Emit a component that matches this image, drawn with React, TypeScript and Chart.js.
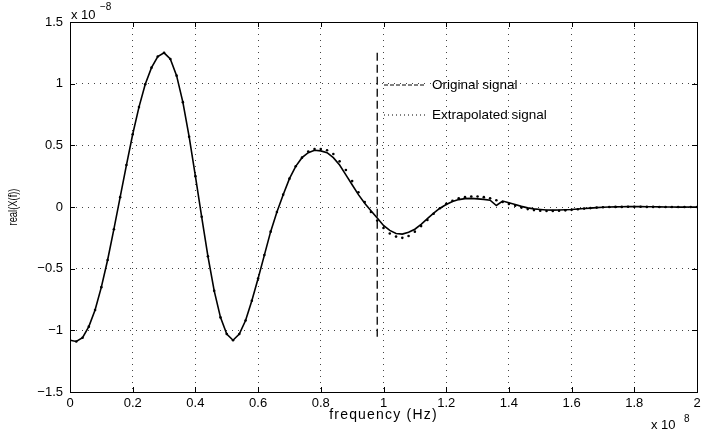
import React, { useEffect, useRef } from "react";
import { Chart, registerables } from "chart.js";

Chart.register(...registerables);

// frequency in units of 1e8 Hz
const FREQ = [
  0.0, 0.02, 0.04, 0.06, 0.08, 0.1, 0.12, 0.14, 0.16, 0.18,
  0.2, 0.22, 0.24, 0.26, 0.28, 0.3, 0.32, 0.34, 0.36, 0.38,
  0.4, 0.42, 0.44, 0.46, 0.48, 0.5, 0.52, 0.54, 0.56, 0.58,
  0.6, 0.62, 0.64, 0.66, 0.68, 0.7, 0.72, 0.74, 0.76, 0.78,
  0.8, 0.82, 0.84, 0.86, 0.88, 0.9, 0.92, 0.94, 0.96, 0.98,
  1.0, 1.02, 1.04, 1.06, 1.08, 1.1, 1.12, 1.14, 1.16, 1.18,
  1.2, 1.22, 1.24, 1.26, 1.28, 1.3, 1.32, 1.34, 1.36, 1.38,
  1.4, 1.42, 1.44, 1.46, 1.48, 1.5, 1.52, 1.54, 1.56, 1.58,
  1.6, 1.62, 1.64, 1.66, 1.68, 1.7, 1.72, 1.74, 1.76, 1.78,
  1.8, 1.82, 1.84, 1.86, 1.88, 1.9, 1.92, 1.94, 1.96, 1.98,
  2.0,
];

// real(X(f)) in units of 1e-8
const ORIGINAL = [
  -1.08, -1.09, -1.06, -0.97, -0.835, -0.65, -0.43, -0.18, 0.08, 0.34,
  0.59, 0.81, 0.995, 1.13, 1.22, 1.25, 1.2, 1.065, 0.85, 0.57,
  0.25, -0.08, -0.4, -0.68, -0.895, -1.03, -1.08, -1.03, -0.92, -0.76,
  -0.58, -0.39, -0.2, -0.04, 0.1, 0.23, 0.33, 0.4, 0.44, 0.46,
  0.455, 0.44, 0.4, 0.34, 0.26, 0.18, 0.1, 0.03, -0.03, -0.09,
  -0.15, -0.19, -0.215, -0.22, -0.205, -0.18, -0.14, -0.095, -0.05, -0.01,
  0.02, 0.045, 0.06, 0.068, 0.07, 0.066, 0.062, 0.055, 0.012, 0.048,
  0.035, 0.02, 0.005, -0.007, -0.015, -0.02, -0.024, -0.025, -0.024, -0.022,
  -0.02, -0.016, -0.012, -0.009, -0.005, -0.002, 0.0, 0.001, 0.002, 0.003,
  0.003, 0.003, 0.002, 0.002, 0.001, 0.0, 0.0, -0.001, -0.001, 0.0,
  0.0,
];

const EXTRAPOLATED = [
  -1.08, -1.09, -1.06, -0.97, -0.835, -0.65, -0.43, -0.18, 0.08, 0.34,
  0.59, 0.81, 0.995, 1.13, 1.22, 1.25, 1.2, 1.065, 0.85, 0.57,
  0.25, -0.08, -0.4, -0.68, -0.895, -1.03, -1.08, -1.03, -0.92, -0.76,
  -0.58, -0.39, -0.2, -0.04, 0.1, 0.23, 0.33, 0.4, 0.45, 0.47,
  0.47, 0.46, 0.43, 0.37, 0.3, 0.21, 0.12, 0.04, -0.04, -0.11,
  -0.17, -0.215, -0.24, -0.25, -0.235, -0.2, -0.155, -0.105, -0.055, -0.01,
  0.025, 0.05, 0.07, 0.08, 0.085, 0.085, 0.08, 0.07, 0.055, 0.04,
  0.025, 0.01, -0.005, -0.017, -0.025, -0.03, -0.032, -0.032, -0.03, -0.027,
  -0.023, -0.018, -0.013, -0.009, -0.005, -0.002, 0.0, 0.001, 0.001, 0.002,
  0.002, 0.002, 0.001, 0.001, 0.0, 0.0, 0.0, 0.0, 0.0, 0.0,
  0.0,
];

const MARKER_FREQ = [0.98, 0.98];
const MARKER_VALUE = [1.25, -1.08];

const X_TICKS = [0, 0.2, 0.4, 0.6, 0.8, 1, 1.2, 1.4, 1.6, 1.8, 2];
const X_TICK_LABELS = ["0", "0.2", "0.4", "0.6", "0.8", "1", "1.2", "1.4", "1.6", "1.8", "2"];
const Y_TICKS = [-1.5, -1, -0.5, 0, 0.5, 1, 1.5];
const Y_TICK_LABELS = ["\u22121.5", "\u22121", "\u22120.5", "0", "0.5", "1", "1.5"];

const X_LABEL = "frequency (Hz)";
const Y_LABEL = "real(X(f))";
const X_EXPONENT = "8";
const Y_EXPONENT = "\u22128";
const LEGEND_LABELS = ["Original signal", "Extrapolated signal"];

const FONT = "'Liberation Sans', Arial, Helvetica, sans-serif";

function labelFor(ticks: number[], labels: string[], v: number): string {
  const i = ticks.findIndex((t) => Math.abs(t - v) < 1e-9);
  return i >= 0 ? labels[i] : "";
}

const decorations = {
  id: "matlabDecor",
  afterDraw(chart: any) {
    const { ctx, chartArea, scales } = chart;
    const { left, right, top, bottom } = chartArea;
    ctx.save();
    // box
    ctx.strokeStyle = "#000";
    ctx.lineWidth = 1;
    ctx.setLineDash([]);
    ctx.strokeRect(Math.round(left) + 0.5, Math.round(top) + 0.5, Math.round(right - left), Math.round(bottom - top));
    // inward ticks
    ctx.beginPath();
    for (const v of X_TICKS) {
      const px = Math.round(scales.x.getPixelForValue(v)) + 0.5;
      ctx.moveTo(px, bottom);
      ctx.lineTo(px, bottom - 5);
      ctx.moveTo(px, top);
      ctx.lineTo(px, top + 5);
    }
    for (const v of Y_TICKS) {
      const py = Math.round(scales.y.getPixelForValue(v)) + 0.5;
      ctx.moveTo(left, py);
      ctx.lineTo(left + 5, py);
      ctx.moveTo(right, py);
      ctx.lineTo(right - 5, py);
    }
    ctx.stroke();

    ctx.fillStyle = "#000";
    // exponents
    ctx.textBaseline = "middle";
    ctx.textAlign = "left";
    ctx.font = `13px ${FONT}`;
    ctx.fillText("x 10", left + 1, top - 7);
    ctx.font = `10px ${FONT}`;
    ctx.fillText(Y_EXPONENT, left + 30, top - 15);
    ctx.font = `13px ${FONT}`;
    ctx.fillText("x 10", right - 46, bottom + 33);
    ctx.font = `10px ${FONT}`;
    ctx.fillText(X_EXPONENT, right - 13, bottom + 27);

    // axis titles
    ctx.font = `14px ${FONT}`;
    ctx.textAlign = "center";
    (ctx as any).letterSpacing = "1.2px";
    ctx.fillText(X_LABEL, (left + right) / 2, bottom + 23);
    (ctx as any).letterSpacing = "0px";
    ctx.save();
    ctx.translate(14, (top + bottom) / 2);
    ctx.rotate(-Math.PI / 2);
    ctx.scale(0.75, 1);
    ctx.font = `12.5px ${FONT}`;
    ctx.fillText(Y_LABEL, 0, 0);
    ctx.restore();

    // legend
    const lx0 = left + 314;
    const lx1 = left + 356;
    const ly0 = top + 63;
    const ly1 = top + 93;
    ctx.strokeStyle = "#000";
    ctx.lineWidth = 1;
    ctx.setLineDash([4, 2]);
    ctx.beginPath();
    ctx.moveTo(lx0, ly0);
    ctx.lineTo(lx1, ly0);
    ctx.stroke();
    ctx.setLineDash([1, 3]);
    ctx.beginPath();
    ctx.moveTo(lx0, ly1);
    ctx.lineTo(lx1, ly1);
    ctx.stroke();
    ctx.setLineDash([]);
    ctx.textAlign = "left";
    ctx.font = `13.5px ${FONT}`;
    ctx.fillText(LEGEND_LABELS[0], lx1 + 6, ly0);
    ctx.fillText(LEGEND_LABELS[1], lx1 + 6, ly1);
    ctx.restore();
  },
};

export default function App() {
  const canvasRef = useRef<HTMLCanvasElement | null>(null);

  useEffect(() => {
    const canvas = canvasRef.current;
    if (!canvas) return;
    const chart = new Chart(canvas, {
      type: "line",
      data: {
        datasets: [
          {
            label: LEGEND_LABELS[0],
            data: FREQ.map((f, i) => ({ x: f, y: ORIGINAL[i] })),
            borderColor: "#000",
            borderWidth: 1.6,
            pointRadius: 0,
            tension: 0,
            fill: false,
          },
          {
            label: LEGEND_LABELS[1],
            data: FREQ.map((f, i) => ({ x: f, y: EXTRAPOLATED[i] })),
            showLine: false,
            borderColor: "#000",
            backgroundColor: "#000",
            pointRadius: 1.3,
            pointBorderWidth: 0,
            pointStyle: "circle",
          },
          {
            label: "marker",
            data: MARKER_FREQ.map((f, i) => ({ x: f, y: MARKER_VALUE[i] })),
            borderColor: "#000",
            borderWidth: 1.3,
            borderDash: [8, 4],
            pointRadius: 0,
            fill: false,
          },
        ],
      },
      options: {
        animation: false,
        responsive: true,
        maintainAspectRatio: false,
        layout: { padding: { top: 22, right: 16, left: 0, bottom: 0 } },
        plugins: {
          legend: { display: false },
          tooltip: { enabled: false },
          title: { display: false },
        },
        scales: {
          x: {
            type: "linear",
            min: 0,
            max: 2,
            afterBuildTicks: (s: any) => {
              s.ticks = X_TICKS.map((v) => ({ value: v }));
            },
            afterFit: (s: any) => {
              s.height = 40;
            },
            ticks: {
              autoSkip: false,
              maxRotation: 0,
              padding: 4,
              color: "#000",
              font: { family: FONT, size: 13 },
              callback: (v: any) => labelFor(X_TICKS, X_TICK_LABELS, Number(v)),
            },
            grid: { color: "#444", lineWidth: 1, drawTicks: false },
            border: { display: false, dash: [1, 5] },
          },
          y: {
            type: "linear",
            min: -1.5,
            max: 1.5,
            afterBuildTicks: (s: any) => {
              s.ticks = Y_TICKS.map((v) => ({ value: v }));
            },
            afterFit: (s: any) => {
              s.width = 70;
            },
            ticks: {
              autoSkip: false,
              padding: 7,
              color: "#000",
              font: { family: FONT, size: 13 },
              callback: (v: any) => labelFor(Y_TICKS, Y_TICK_LABELS, Number(v)),
            },
            grid: { color: "#444", lineWidth: 1, drawTicks: false },
            border: { display: false, dash: [1, 5] },
          },
        },
      },
      plugins: [decorations],
    });
    return () => chart.destroy();
  }, []);

  return (
    <div style={{ position: "absolute", left: 0, top: 0, width: 713, height: 432, background: "#fff" }}>
      <canvas ref={canvasRef} />
    </div>
  );
}
